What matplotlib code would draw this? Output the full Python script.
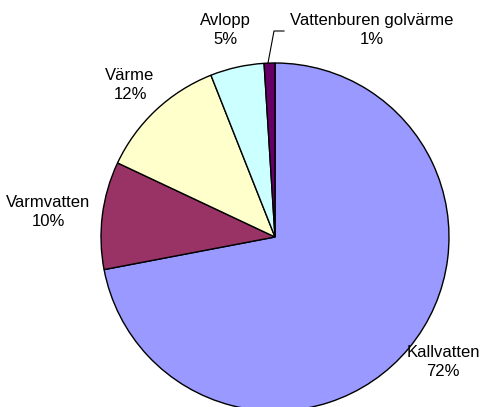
import matplotlib.pyplot as plt

# data
categories = ['Kallvatten', 'Varmvatten', 'Värme', 'Avlopp', 'Vattenburen golvärme']
shares = [72, 10, 12, 5, 1]
colors = ['#9999FF', '#993366', '#FFFFCC', '#CCFFFF', '#660066']

W, H = 490, 407
fig = plt.figure(figsize=(W / 100, H / 100), dpi=100)
ax = fig.add_axes([0, 0, 1, 1])

# pie centre / radius in pixels, measured from the top-left corner
cx, cy, r = 275, 237, 174
ax.pie(shares, colors=colors, startangle=90, counterclock=False,
       center=(cx, H - cy), radius=r, frame=True,
       wedgeprops=dict(edgecolor='black', linewidth=1))
ax.set_xlim(0, W)
ax.set_ylim(0, H)
ax.set_aspect('equal')
ax.axis('off')

# label positions (pixels from top-left)
label_pos = [(443, 362), (48, 212), (130, 85), (225, 30), (372, 30)]
for name, val, (x, y) in zip(categories, shares, label_pos):
    ax.text(x, H - y, f'{name}\n{val}%', ha='center', va='center',
            fontsize=12, family='Liberation Sans', linespacing=1.3)

# leader line for the small slice
ax.plot([284, 274, 268], [H - 31, H - 31, H - 63], color='black', lw=0.8)

fig.savefig('out.png', dpi=100)
